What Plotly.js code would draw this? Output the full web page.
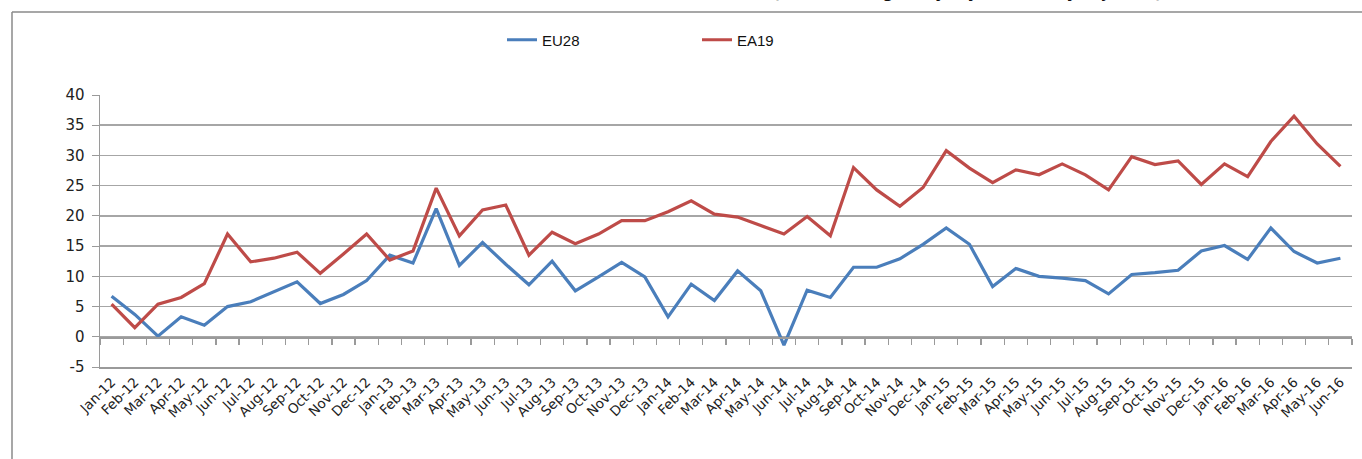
<!DOCTYPE html>
<html>
<head>
<meta charset="utf-8">
<script src="https://cdn.plot.ly/plotly-3.0.1.min.js"></script>
<style>html,body{margin:0;padding:0;background:#fff;}#chart{width:1362px;height:459px;}</style>
</head>
<body>
<div id="chart"></div>
<script>
const months = ["Jan-12","Feb-12","Mar-12","Apr-12","May-12","Jun-12","Jul-12","Aug-12","Sep-12","Oct-12","Nov-12","Dec-12",
"Jan-13","Feb-13","Mar-13","Apr-13","May-13","Jun-13","Jul-13","Aug-13","Sep-13","Oct-13","Nov-13","Dec-13",
"Jan-14","Feb-14","Mar-14","Apr-14","May-14","Jun-14","Jul-14","Aug-14","Sep-14","Oct-14","Nov-14","Dec-14",
"Jan-15","Feb-15","Mar-15","Apr-15","May-15","Jun-15","Jul-15","Aug-15","Sep-15","Oct-15","Nov-15","Dec-15",
"Jan-16","Feb-16","Mar-16","Apr-16","May-16","Jun-16"];

const eu28 = [6.7,3.7,0.1,3.3,1.9,5.0,5.8,7.4,9.1,5.5,7.0,9.3,
13.5,12.2,21.2,11.8,15.6,12.0,8.6,12.5,7.6,9.9,12.3,9.9,
3.3,8.7,6.0,10.9,7.6,-1.4,7.7,6.5,11.5,11.5,12.9,15.3,
18.0,15.3,8.3,11.3,10.0,9.7,9.3,7.1,10.3,10.6,11.0,14.2,
15.1,12.8,18.0,14.1,12.2,13.0];

const ea19 = [5.4,1.5,5.4,6.5,8.8,17.0,12.4,13.0,14.0,10.5,13.7,17.0,
12.7,14.2,24.6,16.7,21.0,21.8,13.5,17.3,15.4,17.0,19.2,19.2,
20.7,22.5,20.3,19.8,18.4,17.0,19.9,16.7,28.0,24.3,21.6,24.7,
30.8,27.9,25.5,27.6,26.8,28.6,26.8,24.3,29.8,28.5,29.1,25.2,
28.6,26.5,32.3,36.5,31.9,28.2];

const seriesNames = ["EU28","EA19"];
const yTicks = [-5,0,5,10,15,20,25,30,35,40];
const yTickText = ["-5","0","5","10","15","20","25","30","35","40"];
const titleText = "(annual change, % y-o-y, seasonally adjusted)";

const L = 100, R = 10, T = 95, B = 92;
const W = 1362, H = 459;
const plotW = W - L - R, plotH = H - T - B;
const px = p => (p - L) / plotW;
const py = p => (H - B - p) / plotH;

const traces = [
  {x: months, y: eu28, name: seriesNames[0], type: "scatter", mode: "lines",
   line: {color: "#4A7EBB", width: 3.2}},
  {x: months, y: ea19, name: seriesNames[1], type: "scatter", mode: "lines",
   line: {color: "#BE4B48", width: 3.2}}
];

const layout = {
  width: W, height: H,
  margin: {l: L, r: R, t: T, b: B},
  paper_bgcolor: "#fff", plot_bgcolor: "#fff",
  font: {family: "DejaVu Sans, Verdana, sans-serif", size: 13, color: "#222"},
  showlegend: true,
  legend: {orientation: "h", x: px(502), y: py(40), xanchor: "left", yanchor: "middle",
           font: {family: "Liberation Sans Narrow, Arial Narrow, sans-serif", size: 15, color: "#111"},
           entrywidth: 150, entrywidthmode: "pixels", itemwidth: 30, bgcolor: "rgba(0,0,0,0)"},
  xaxis: {type: "category", range: [-0.5, 53.5], tickangle: -45, ticks: "",
          showgrid: false, zeroline: false, showline: true, linecolor: "#9a9a9a", linewidth: 2,
          tickfont: {family: "DejaVu Sans, Verdana, sans-serif", size: 13.5, color: "#222"},
          automargin: false, fixedrange: true},
  xaxis2: {overlaying: "x", anchor: "free", position: py(337), range: [-0.5, 53.5],
           tick0: -0.5, dtick: 1, ticks: "outside", ticklen: 6, tickcolor: "#9a9a9a", tickwidth: 1.3,
           showticklabels: false, showgrid: false, zeroline: false, showline: true,
           linecolor: "#9a9a9a", linewidth: 1.5, side: "bottom"},
  yaxis: {range: [-5, 40], tickvals: yTicks, ticktext: yTickText, ticks: "outside", ticklen: 7, tickcolor: "#9a9a9a",
          showgrid: true, gridcolor: "#a6a6a6", gridwidth: 1.5, zeroline: false,
          showline: true, linecolor: "#9a9a9a", linewidth: 1.5,
          tickfont: {family: "DejaVu Sans, Verdana, sans-serif", size: 15, color: "#222"},
          ticklabelstandoff: 4,
          automargin: false, fixedrange: true},
  shapes: [
    {type: "line", xref: "paper", yref: "paper", x0: px(12), x1: px(1362), y0: py(12), y1: py(12),
     line: {color: "#8a8a8a", width: 1.5}},
    {type: "line", xref: "paper", yref: "paper", x0: px(12), x1: px(12), y0: py(12), y1: py(459),
     line: {color: "#8a8a8a", width: 1.5}}
  ],
  annotations: [
    {text: "<b>" + titleText + "</b>", xref: "paper", yref: "paper", x: px(967), y: py(4),
     xanchor: "center", yanchor: "bottom", showarrow: false,
     font: {family: "DejaVu Sans, Verdana, sans-serif", size: 15, color: "#111"}}
  ]
};

Plotly.newPlot("chart", [
  traces[0], traces[1],
  {x: [0], y: [null], xaxis: "x2", yaxis: "y", showlegend: false, hoverinfo: "skip", mode: "lines"}
], layout, {displayModeBar: false, staticPlot: true});
</script>
</body>
</html>
